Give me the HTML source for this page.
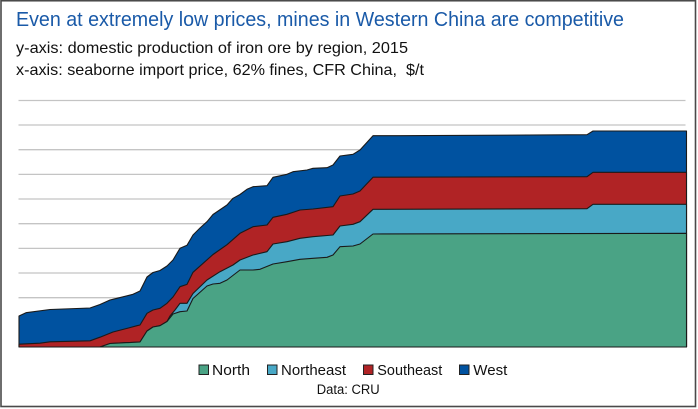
<!DOCTYPE html>
<html>
<head>
<meta charset="utf-8">
<style>
  html, body { margin:0; padding:0; background:#fff; }
  svg { display:block; }
  text { font-family: "Liberation Sans", Arial, sans-serif; }
</style>
</head>
<body>
<svg width="698" height="409" viewBox="0 0 698 409" xmlns="http://www.w3.org/2000/svg">
  <rect x="0" y="0" width="698" height="409" fill="#fff"/>
  <!-- outer border -->
  <rect x="1" y="0.75" width="694.5" height="405.75" fill="none" stroke="#4a4a4a" stroke-width="1.6"/>

  <!-- titles -->
  <text x="16" y="26" font-size="20" fill="#1a5aa8" textLength="608" lengthAdjust="spacingAndGlyphs">Even at extremely low prices, mines in Western China are competitive</text>
  <text x="16" y="53" font-size="16" fill="#111" textLength="392" lengthAdjust="spacingAndGlyphs">y-axis: domestic production of iron ore by region, 2015</text>
  <text x="16" y="75" font-size="16" fill="#111" textLength="408" lengthAdjust="spacingAndGlyphs" xml:space="preserve">x-axis: seaborne import price, 62% fines, CFR China,  $/t</text>

  <!-- gridlines -->
  <g stroke="#c4c4c4" stroke-width="1.3">
    <line x1="18.5" y1="100.5" x2="685.5" y2="100.5"/>
    <line x1="18.5" y1="125" x2="685.5" y2="125"/>
    <line x1="18.5" y1="149.7" x2="685.5" y2="149.7"/>
    <line x1="18.5" y1="174.4" x2="685.5" y2="174.4"/>
    <line x1="18.5" y1="199" x2="685.5" y2="199"/>
    <line x1="18.5" y1="223.7" x2="685.5" y2="223.7"/>
    <line x1="18.5" y1="248.4" x2="685.5" y2="248.4"/>
    <line x1="18.5" y1="273" x2="685.5" y2="273"/>
    <line x1="18.5" y1="297.7" x2="685.5" y2="297.7"/>
    <line x1="18.5" y1="322.4" x2="685.5" y2="322.4"/>
  </g>

  <g stroke="#1a1a1a" stroke-width="1.1" stroke-linejoin="round">
    <!-- West -->
    <polygon fill="#0052a0" points="19,347 19,316 26,312.7 50,309.5 90,308 100,304.5 110,300 117,298.3 133,294.3 140,291 147,277 153,272.5 160,270.5 167,266 173,260 180,248.3 187,245.3 193,235 200,228 207,221.7 213,214.5 227,205 233,198.3 240,194.5 247,189.3 253,186.7 267,185.7 273,177.3 287,174.3 293,171.7 307,170 313,168.3 327,167.7 333,165 340,156 353,154.3 360,150 373,135.7 400,135.7 587,134.7 593,131 686.5,131 686.5,347"/>
    <!-- Southeast -->
    <polygon fill="#b02325" points="19,347 19,344.2 40,343.2 50,341.8 90,340.8 100,337.2 113,332 127,328.4 137,325.7 140,325 147,313.3 153,310 160,308.3 167,303.3 173,297 180,286.7 187,284.4 193,272.3 213,254.5 227,244.7 240,233.3 253,226.7 267,225 273,217.3 287,214.3 300,210 313,209 333,206.7 340,196 353,194 360,191 373,177.2 587,176.7 593,172.3 686.5,172.3 686.5,347"/>
    <!-- Northeast -->
    <polygon fill="#48a8c6" points="100,347 110,343.5 140,342 147,331 153,327 160,325.7 167,321.5 170,316 175,310 180,303.3 187,303.3 193,293.5 207,280 220,271.7 233,265 240,260 253,255 267,251.7 273,244 287,241.7 300,238.3 313,236.7 333,235 340,226 353,224.3 360,221.7 373,209.3 587,208.7 593,204.3 686.5,204.3 686.5,347"/>
    <!-- North -->
    <polygon fill="#4aa385" points="100,347 110,343.5 140,342 147,331 153,327 160,325.7 167,321.5 173,314 180,311.7 187,311 193,298.5 207,286 213,284 220,283.3 227,280 240,270 253,270 260,269.3 273,264 287,261.7 300,259.3 313,258.3 327,257.3 333,255 340,246.7 353,246 360,244 373,234 686.5,233.3 686.5,347"/>
    <line x1="19" y1="347" x2="686.5" y2="347"/>
  </g>

  <!-- legend -->
  <g stroke="#222" stroke-width="1">
    <rect x="199" y="365" width="9.5" height="9.5" fill="#4aa385"/>
    <rect x="267.5" y="365" width="9.5" height="9.5" fill="#48a8c6"/>
    <rect x="363.5" y="365" width="9.5" height="9.5" fill="#b02325"/>
    <rect x="459.5" y="365" width="9.5" height="9.5" fill="#0052a0"/>
  </g>
  <g font-size="14.5" fill="#111">
    <text x="212" y="375" textLength="38" lengthAdjust="spacingAndGlyphs">North</text>
    <text x="281" y="375" textLength="65" lengthAdjust="spacingAndGlyphs">Northeast</text>
    <text x="377.3" y="375" textLength="65" lengthAdjust="spacingAndGlyphs">Southeast</text>
    <text x="473.3" y="375" textLength="34" lengthAdjust="spacingAndGlyphs">West</text>
  </g>
  <text x="316.7" y="394" font-size="13.5" fill="#111" textLength="63" lengthAdjust="spacingAndGlyphs">Data: CRU</text>
</svg>
</body>
</html>
